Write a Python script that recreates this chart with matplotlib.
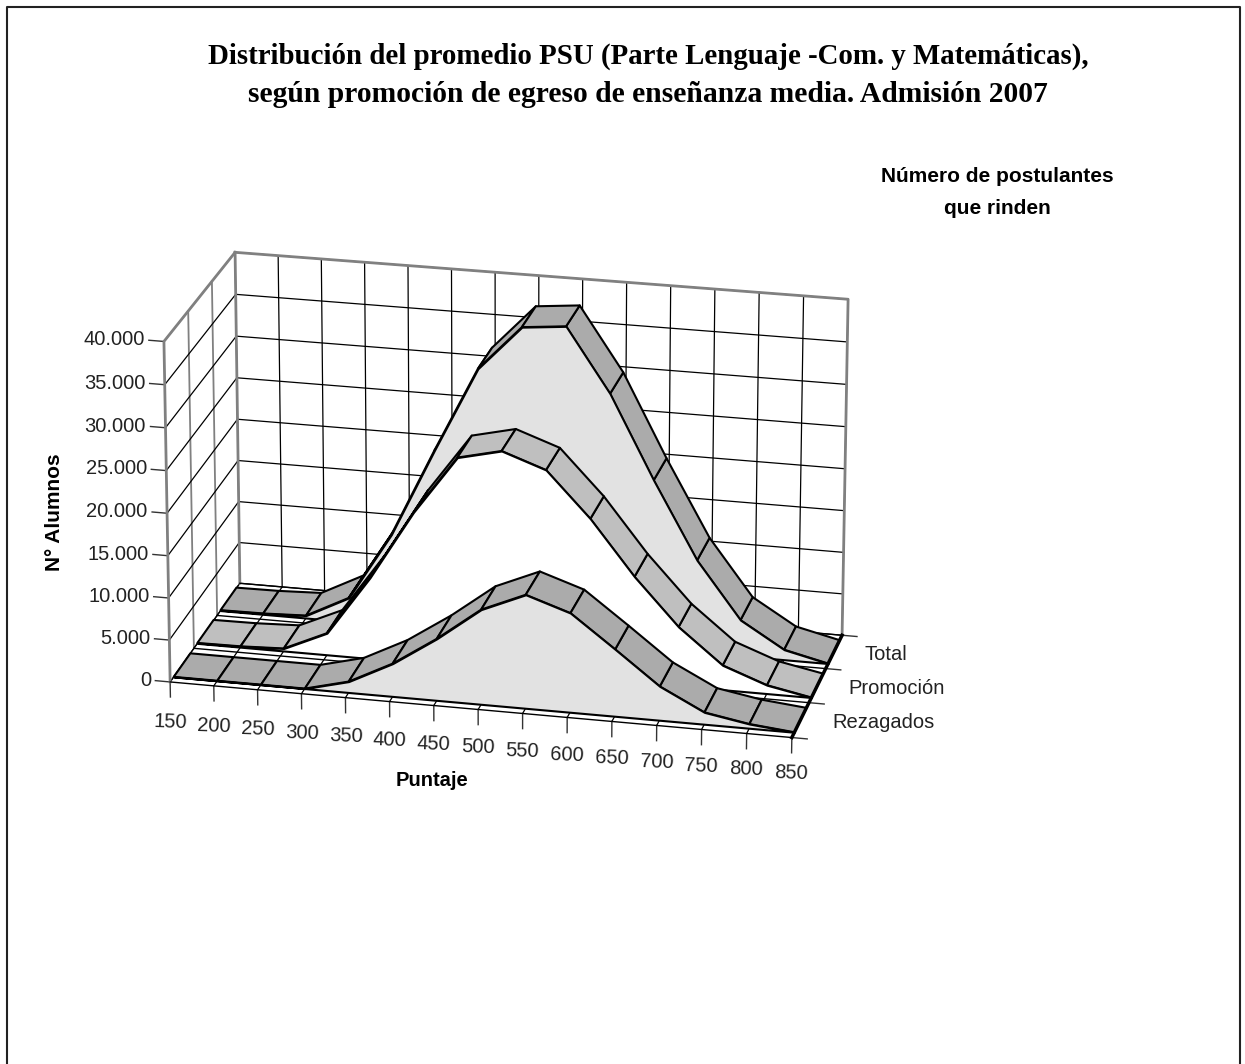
import numpy as np
import matplotlib
matplotlib.use("Agg")
import matplotlib.pyplot as plt
from matplotlib.lines import Line2D
from mpl_toolkits.mplot3d import proj3d
from mpl_toolkits.mplot3d.art3d import Poly3DCollection

W, H = 1245, 1064

# values
puntaje = [150, 200, 250, 300, 350, 400, 450, 500, 550, 600, 650, 700, 750, 800, 850]
rezagados = [0, 0, 0, 0, 1300, 3900, 7300, 11200, 13400, 11700, 7900, 4000, 1400, 500, 0]
promocion = [50, 100, 300, 2600, 9700, 17900, 24800, 26000, 24200, 18900, 12500, 7000, 2900, 1000, 0]
total = [50, 100, 300, 2900, 11000, 21500, 31600, 36900, 37400, 29900, 20100, 11000, 4300, 1200, 0]
series_names = ["Rezagados", "Promoción", "Total"]
z_ticks = [0, 5000, 10000, 15000, 20000, 25000, 30000, 35000, 40000]
z_labels = ["0", "5.000", "10.000", "15.000", "20.000", "25.000", "30.000", "35.000", "40.000"]

fig = plt.figure(figsize=(W / 100, H / 100), dpi=100)
# view fitted to the corners of the box in the reference
L, B, S = 120.55, 185.0, 755.93
ax = fig.add_axes([L / W, B / H, S / W, S / H], projection="3d", computed_zorder=False)
ax.set_axis_off()
ax.patch.set_alpha(0)
ax.set_xlim(150, 850, view_margin=0)
ax.set_ylim(0, 3, view_margin=0)
ax.set_zlim(0, 40000, view_margin=0)
ax.view_init(elev=21.196, azim=-77.083)
ax.set_proj_type("persp", focal_length=1.784)
ax.set_box_aspect((1.7458, 0.7484, 1.0))
M = ax.get_proj()

sans = "Liberation Sans"


def label(x, y, z, s, **kw):
    # text placed at the projected spot of a point of the box
    px, py, _ = proj3d.proj_transform(x, y, z, M)
    ax.text2D(px, py, s, transform=ax.transData, family=sans, fontsize=14.5, color="#222222", **kw)


xs = np.array(puntaje, float)

# walls and floor
gray = "#808080"
for v in puntaje:
    ax.plot([v, v], [3, 3], [0, 40000], color="black", lw=0.9, zorder=1)
    ax.plot([v, v], [0, 3], [0, 0], color="black", lw=0.9, zorder=2)
    ax.plot([v, v], [0, 0], [0, -1800], color="#333333", lw=1.0, zorder=2)
    label(v, 0, -3600 + (v - 150) * 0.85, str(v), ha="center", va="top", rotation=-2)
for b in [1, 2]:
    ax.plot([150, 150], [b, b], [0, 40000], color=gray, lw=1.3, zorder=1)
for z, lab in zip(z_ticks, z_labels):
    ax.plot([850, 150], [3, 3], [z, z], color="black", lw=0.9, zorder=1)
    ax.plot([150, 150], [3, 0], [z, z], color="black", lw=0.9, zorder=1)
    ax.plot([150, 133], [0, 0], [z, z], color="#333333", lw=1.0, zorder=2)
    label(128, 0, z, lab, ha="right", va="center")
ax.plot([150, 150, 150], [0, 0, 3], [0, 40000, 40000], color=gray, lw=2, zorder=3)
ax.plot([150, 850, 850], [3, 3, 3], [40000, 40000, 0], color=gray, lw=2, zorder=3)
ax.plot([150, 150], [3, 3], [0, 40000], color=gray, lw=2, zorder=3)
ax.plot([850, 850], [0, 3], [0, 0], color="black", lw=2.5, zorder=60)
for b in [0, 1, 2, 3]:
    ax.plot([150, 850], [b, b], [0, 0], color="black", lw=1.0, zorder=3)
    ax.plot([850, 867], [b, b], [0, 0], color="#333333", lw=1.0, zorder=3)

# ribbons, back to front
ribbon_cols = ["#ababab", "#bfbfbf", "#ababab"]
fill_cols = ["#e2e2e2", "white", "#e2e2e2"]
vals = [rezagados, promocion, total]
for i in [2, 1, 0]:
    v = np.array(vals[i], float)
    y0, y1 = i + 0.15, i + 0.85
    zo = 10 + (2 - i) * 10
    facets = []
    for k in range(len(xs) - 1):
        facets.append([(xs[k], y0, v[k]), (xs[k + 1], y0, v[k + 1]), (xs[k + 1], y1, v[k + 1]), (xs[k], y1, v[k])])
    rib = Poly3DCollection(facets, facecolors=ribbon_cols[i], edgecolors="black", linewidths=1.5, zorder=zo)
    ax.add_collection3d(rib, autolim=False)
    wall = [(a, y0, b) for a, b in zip(xs, v)] + [(850, y0, 0), (150, y0, 0)]
    fr = Poly3DCollection([wall], facecolors=fill_cols[i], edgecolors="black", linewidths=1.5, zorder=zo + 1)
    ax.add_collection3d(fr, autolim=False)
    label(885, i + 0.5, 0, series_names[i], ha="left", va="center")

# texts
fig.text(648 / W, 1 - 56 / H, "Distribución del promedio PSU (Parte Lenguaje -Com. y Matemáticas),", ha="center", va="center", family="Liberation Serif", weight="bold", fontsize=20.8)
fig.text(648 / W, 1 - 94 / H, "según promoción de egreso de enseñanza media. Admisión 2007", ha="center", va="center", family="Liberation Serif", weight="bold", fontsize=21.3)
fig.text(997 / W, 1 - 176 / H, "Número de postulantes", ha="center", va="center", family=sans, weight="bold", fontsize=15)
fig.text(997 / W, 1 - 209 / H, "que rinden", ha="center", va="center", family=sans, weight="bold", fontsize=15)
fig.text(55 / W, 1 - 512 / H, "N° Alumnos", ha="center", va="center", rotation=90, family=sans, weight="bold", fontsize=15)
fig.text(432 / W, 1 - 780 / H, "Puntaje", ha="center", va="center", family=sans, weight="bold", fontsize=14.5)

# frame is open at the bottom
fig.add_artist(Line2D([7 / W, 7 / W, 1240 / W, 1240 / W], [0, 1 - 6.5 / H, 1 - 6.5 / H, 0], transform=fig.transFigure, color="#222222", lw=1.5))
fig.savefig("out.png", dpi=100)
